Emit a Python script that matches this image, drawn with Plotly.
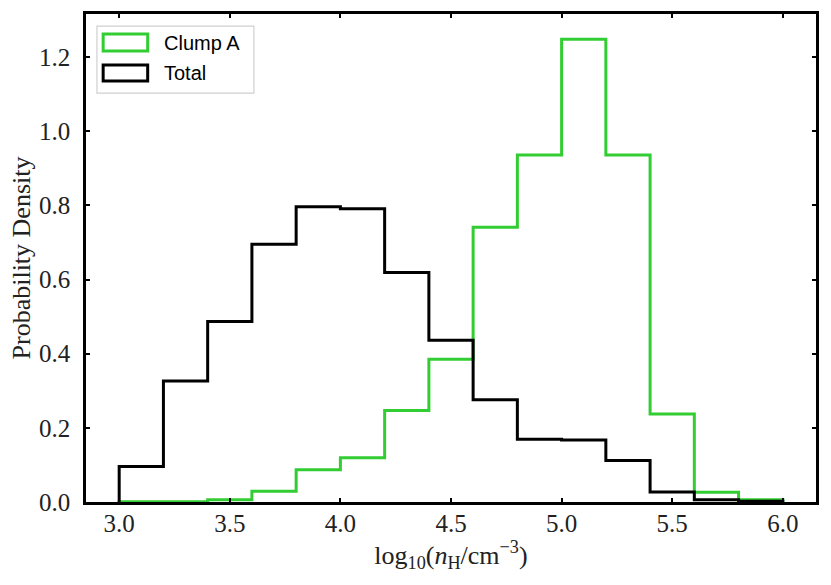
import plotly.graph_objects as go

# bin edges of log10(n_H / cm^-3)
bin_edges = [3.0, 3.2, 3.4, 3.6, 3.8, 4.0, 4.2, 4.4, 4.6, 4.8, 5.0, 5.2, 5.4, 5.6, 5.8, 6.0]

# probability density per bin
total_density = [0.096, 0.326, 0.487, 0.695, 0.796, 0.791, 0.619, 0.436, 0.276, 0.169,
                 0.167, 0.112, 0.027, 0.006, 0.002]
clumpA_density = [0.001, 0.001, 0.006, 0.029, 0.087, 0.119, 0.247, 0.385, 0.741, 0.936,
                  1.248, 0.936, 0.237, 0.026, 0.006]

series_names = ['Clump A', 'Total']
series_colors = ['#32cd32', 'black']

serif = 'Liberation Serif'


def step_path(edges, vals):
    # histtype='step' outline: up from 0 at first edge, down to 0 at last edge
    xs = [edges[0]] + list(edges)
    ys = [0] + list(vals) + [0]
    return xs, ys


fig = go.Figure()

for name, vals, col in zip(series_names, [clumpA_density, total_density], series_colors):
    xs, ys = step_path(bin_edges, vals)
    fig.add_trace(go.Scatter(x=xs, y=ys, mode='lines', name=name, line_shape='hv',
                             line=dict(color=col, width=3), showlegend=False,
                             hoverinfo='skip'))

axis_style = dict(showline=True, linecolor='black', linewidth=2.5, mirror='ticks',
                  ticks='inside', ticklen=4, tickwidth=2, tickcolor='black',
                  showgrid=False, zeroline=False,
                  tickfont=dict(family=serif, size=25, color='#222'))

fig.update_xaxes(range=[2.85, 6.15], tickvals=[3.0, 3.5, 4.0, 4.5, 5.0, 5.5, 6.0],
                 ticktext=['3.0', '3.5', '4.0', '4.5', '5.0', '5.5', '6.0'],
                 ticklabelstandoff=-3,
                 title=dict(text='log<sub>10</sub>(<i>n</i><sub>H</sub>/cm<sup>−3</sup>)',
                            font=dict(family=serif, size=26, color='#222'), standoff=0),
                 **axis_style)
fig.update_yaxes(range=[0, 1.316], tickvals=[0, 0.2, 0.4, 0.6, 0.8, 1.0, 1.2],
                 ticktext=['0.0', '0.2', '0.4', '0.6', '0.8', '1.0', '1.2'],
                 ticklabelstandoff=8,
                 title=dict(text='Probability Density',
                            font=dict(family=serif, size=26, color='#222'), standoff=1),
                 **axis_style)

# legend drawn by hand to get the outlined boxes matplotlib uses
fig.add_shape(type='rect', xref='paper', yref='paper', x0=0.015, x1=0.230, y0=0.838, y1=0.975,
              line=dict(color='#d0d0d0', width=1.2), fillcolor='rgba(255,255,255,0.8)')
legend_rows = [(0.924, 0.959, 0.941), (0.8627, 0.8955, 0.879)]
for (y0, y1, yt), name, col in zip(legend_rows, series_names, series_colors):
    fig.add_shape(type='rect', xref='paper', yref='paper', x0=0.0235, x1=0.0845, y0=y0, y1=y1,
                  line=dict(color=col, width=3), fillcolor='rgba(0,0,0,0)')
    fig.add_annotation(text=name, xref='paper', yref='paper', x=0.104, y=yt,
                       xanchor='left', yanchor='middle', showarrow=False,
                       font=dict(family='Liberation Sans', size=20, color='black'))

fig.update_layout(width=831, height=585, plot_bgcolor='white', paper_bgcolor='white',
                  margin=dict(l=86, r=15, t=14, b=83, autoexpand=False))

fig.write_html("out.html", config={'displayModeBar': False},
               post_script="document.body.style.margin='0';")
